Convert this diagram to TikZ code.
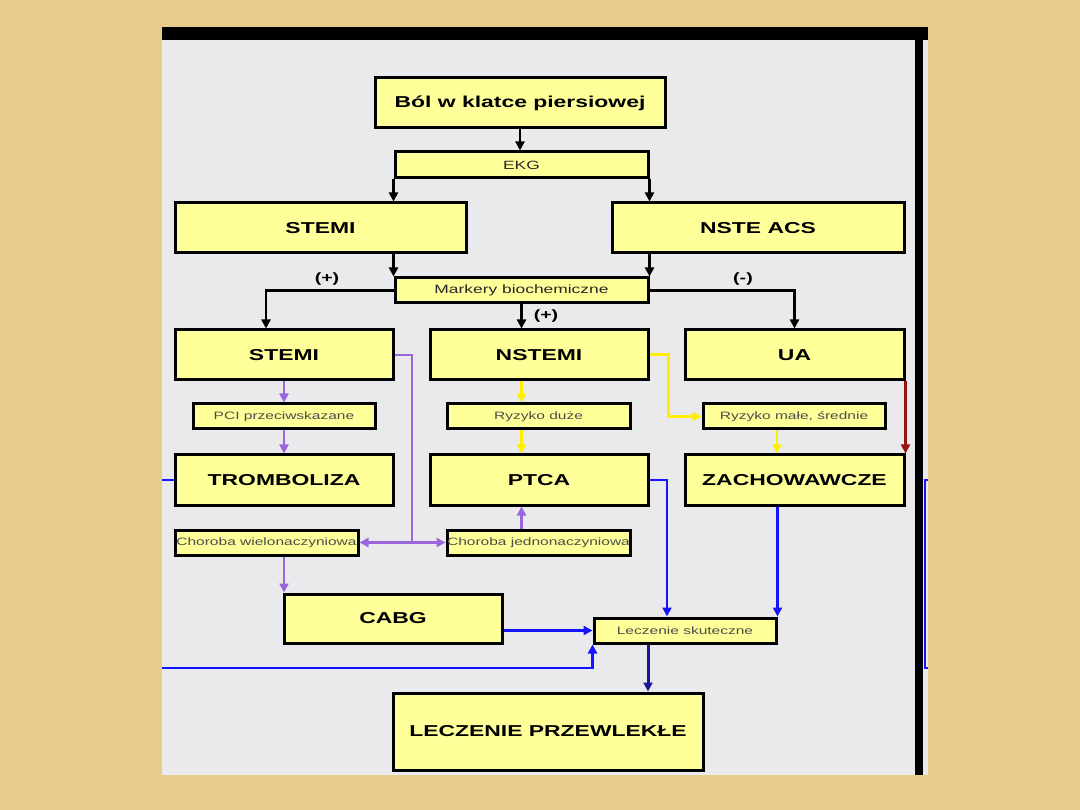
\documentclass[tikz,border=0pt]{standalone}
\usepackage{fontspec}
\newfontfamily\slidefont{Liberation Sans}[FakeStretch=1.45]
\usetikzlibrary{arrows.meta}
\definecolor{slidetan}{RGB}{230,203,140}
\definecolor{panelgray}{RGB}{234,234,236}
\definecolor{boxyellow}{RGB}{255,255,153}
\definecolor{arrpurple}{RGB}{153,102,221}
\definecolor{arryellow}{RGB}{255,238,0}
\definecolor{arrblue}{RGB}{20,20,255}
\definecolor{arrnavy}{RGB}{25,25,150}
\definecolor{arrred}{RGB}{150,20,20}
\begin{document}
\begin{tikzpicture}[x=1pt,y=-1pt,
  bigbox/.style={draw,line width=3pt,fill=boxyellow,inner sep=0pt,
    minimum width=218pt,minimum height=50pt,
    font=\slidefont\bfseries\fontsize{15.8}{18}\selectfont},
  smallbox/.style={draw,line width=3pt,fill=boxyellow,inner sep=0pt,
    minimum width=183pt,minimum height=25pt,text=black!70,
    font=\slidefont\fontsize{10.7}{13}\selectfont},
  midbox/.style={smallbox,minimum width=253pt,text=black!85,
    font=\slidefont\fontsize{12}{14}\selectfont},
  sign/.style={font=\slidefont\bfseries\fontsize{13.5}{15}\selectfont},
  tip/.style={-{Triangle[length=9pt,width=9pt]}},
  blackarr/.style={tip,line width=2.6pt},
  purplearr/.style={tip,line width=2.8pt,arrpurple},
  yellowarr/.style={tip,line width=3pt,arryellow},
  bluearr/.style={tip,line width=2.8pt,arrblue}]
\useasboundingbox (0,0) rectangle (1080,810);
\fill[slidetan] (0,0) rectangle (1080,810);
\fill[panelgray] (162,27) rectangle (928,775);
\fill[black] (162,27) rectangle (928,40);
\fill[black] (915,27) rectangle (923,775);

\node[bigbox,minimum width=290pt] (pain) at (520,103) {Ból w klatce piersiowej};
\node[midbox,minimum height=26pt] (ekg) at (521.5,165) {EKG};
\node[bigbox,minimum width=291pt] (stemiA) at (320.5,228) {STEMI};
\node[bigbox,minimum width=292pt] (nste) at (758,228) {NSTE ACS};
\node[midbox] (markers) at (521.5,290.5) {Markery biochemiczne};
\node[bigbox] (stemiB) at (284,355) {STEMI};
\node[bigbox] (nstemi) at (539,355) {NSTEMI};
\node[bigbox,minimum width=219pt] (ua) at (794.5,355) {UA};
\node[smallbox,minimum width=182pt] (pci) at (284,416.5) {PCI przeciwskazane};
\node[smallbox] (riskhi) at (538.5,416.5) {Ryzyko duże};
\node[smallbox,minimum width=182pt] (risklo) at (794,416.5) {Ryzyko małe, średnie};
\node[bigbox] (lysis) at (284,480) {TROMBOLIZA};
\node[bigbox] (ptca) at (539,480) {PTCA};
\node[bigbox,minimum width=219pt] (conserv) at (794.5,480) {ZACHOWAWCZE};
\node[smallbox] (multi) at (266.5,542.5) {Choroba wielonaczyniowa};
\node[smallbox] (single) at (538.5,542.5) {Choroba jednonaczyniowa};
\node[bigbox,minimum height=49pt] (cabg) at (393,618.5) {CABG};
\node[smallbox,minimum width=182pt] (success) at (685,630.5) {Leczenie skuteczne};
\node[bigbox,minimum width=310pt,minimum height=77pt] (chronic) at (548,731.5) {LECZENIE PRZEWLEKŁE};

\node[sign] (plusL) at (327,279) {(+)};
\node[sign] (plusM) at (546,316) {(+)};
\node[sign] (minusR) at (743,279) {(-)};

\draw[blackarr] (pain.south) -- (pain.south |- ekg.north);
\draw[blackarr] (ekg.south west) -- (ekg.south west |- stemiA.north);
\draw[blackarr] (ekg.south east) -- (ekg.south east |- nste.north);
\draw[blackarr] (markers.north west |- stemiA.south) -- (markers.north west);
\draw[blackarr] (markers.north east |- nste.south) -- (markers.north east);
\draw[blackarr] (markers.west) -| ([xshift=-18pt]stemiB.north);
\draw[blackarr] (markers.south) -- (markers.south |- nstemi.north);
\draw[blackarr] (markers.east) -| (ua.north);

\coordinate (split) at (412,542.5);
\draw[purplearr] (stemiB.south) -- (pci.north);
\draw[purplearr] (pci.south) -- (lysis.north);
\draw[line width=2.8pt,arrpurple] (stemiB.east) -| (split);
\draw[purplearr] (split) -- (multi.east);
\draw[purplearr] (split) -- (single.west);
\draw[purplearr] (markers.south |- single.north) -- (markers.south |- ptca.south);
\draw[purplearr] (pci.south |- multi.south) -- (pci.south |- cabg.north);

\draw[yellowarr] (markers.south |- nstemi.south) -- (markers.south |- riskhi.north);
\draw[yellowarr] (markers.south |- riskhi.south) -- (markers.south |- ptca.north);
\draw[yellowarr] (nstemi.east) -- ++(19,0) |- (risklo.west);
\draw[tip,line width=1.4pt,arryellow] ([xshift=-17pt]risklo.south) -- ([xshift=-17pt]risklo.south |- conserv.north);
\draw[tip,line width=2.8pt,arrred] (ua.south east) -- (conserv.north east);

\coordinate (leftstub) at (162,480);
\coordinate (leftin) at (162,668);
\coordinate (rtop) at (928,480);
\coordinate (rbot) at (928,668);
\draw[line width=2.8pt,arrblue] (leftstub) -- (lysis.west);
\draw[line width=2.4pt,arrblue] (rtop) -- (925,480) -- (925,668) -- (rbot);
\draw[bluearr] (ptca.east) -| ([xshift=-18pt]success.north);
\draw[bluearr] (success.north east |- conserv.south) -- (success.north east);
\draw[bluearr] (cabg.east |- success.west) -- (success.west);
\draw[bluearr] (leftin) -| (success.south west);
\draw[tip,line width=3pt,arrnavy] ([xshift=-37pt]success.south) -- ([xshift=-37pt]success.south |- chronic.north);
\end{tikzpicture}
\end{document}
